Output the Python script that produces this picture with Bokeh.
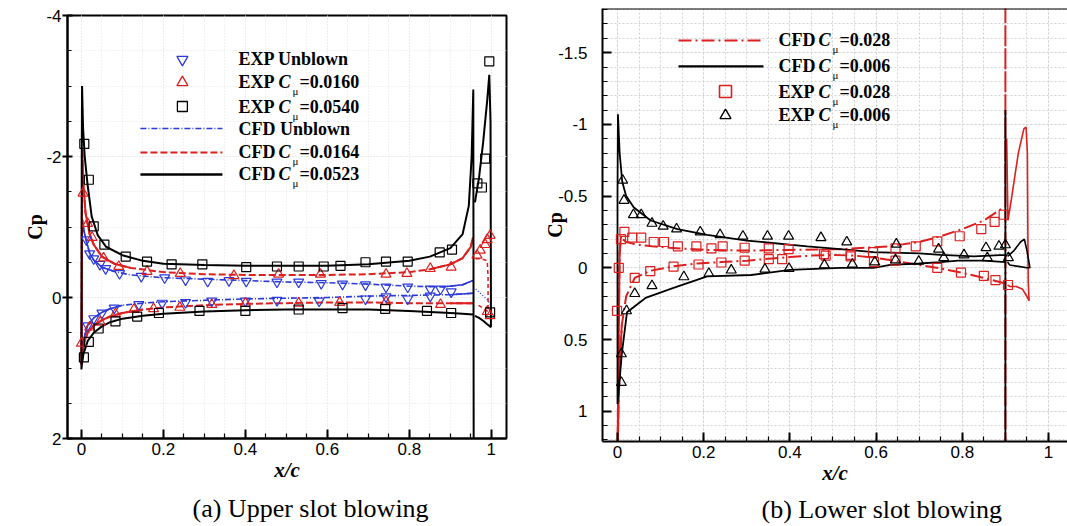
import numpy as np
from bokeh.plotting import figure
from bokeh.models import Range1d, FixedTicker, CustomJSTickFormatter, Label, Span
from bokeh.embed import file_html
from bokeh.resources import INLINE

BLUE = "#2b3ad8"
RED = "#dc1f1f"
BLACK = "#000000"
SERIF = "Liberation Serif"
SANS = "Liberation Sans"

# ---------------- (a) Upper slot blowing ----------------
x_ticks = [0, 0.2, 0.4, 0.6, 0.8, 1.0]
a_y_ticks = [-4, -2, 0, 2]
b_y_ticks = [-1.5, -1.0, -0.5, 0, 0.5, 1.0]

a_cfd_unblown_x = [0.955, 0.9, 0.8, 0.7, 0.6, 0.5, 0.4, 0.3, 0.2, 0.15, 0.1, 0.07, 0.05, 0.03, 0.015, 0.006, 0.002, 0.0,
                   0.0005, 0.0012, 0.0025, 0.006, 0.012, 0.02, 0.03, 0.05, 0.08, 0.12, 0.2, 0.3, 0.4, 0.5, 0.6, 0.7, 0.8, 0.88, 0.93, 0.955]
a_cfd_unblown_cp = [-0.06, -0.04, -0.03, -0.02, 0.0, 0.01, 0.02, 0.04, 0.06, 0.08, 0.11, 0.16, 0.21, 0.29, 0.4, 0.58, 0.8, 0.95,
                    0.4, -0.6, -1.1, -0.95, -0.8, -0.63, -0.53, -0.43, -0.37, -0.32, -0.28, -0.26, -0.24, -0.22, -0.21, -0.19, -0.16, -0.15, -0.18, -0.24]
a_cfd_unblown_flap_x = [0.962, 0.975, 0.99, 0.998]
a_cfd_unblown_flap_cp = [-0.12, -0.05, 0.03, 0.1]

a_cfd_0164_x = [0.955, 0.9, 0.8, 0.7, 0.6, 0.5, 0.4, 0.3, 0.2, 0.15, 0.1, 0.07, 0.05, 0.03, 0.015, 0.006, 0.002, 0.0,
                0.0005, 0.001, 0.002, 0.005, 0.01, 0.02, 0.03, 0.05, 0.08, 0.12, 0.2, 0.3, 0.4, 0.5, 0.6, 0.7, 0.8, 0.85, 0.9, 0.93, 0.95, 0.955]
a_cfd_0164_cp = [0.08, 0.08, 0.08, 0.07, 0.07, 0.08, 0.09, 0.11, 0.14, 0.17, 0.22, 0.27, 0.32, 0.4, 0.5, 0.65, 0.85, 0.95,
                 0.3, -1.0, -2.1, -1.6, -1.2, -0.9, -0.75, -0.58, -0.48, -0.42, -0.36, -0.33, -0.32, -0.32, -0.32, -0.33, -0.36, -0.40, -0.47, -0.56, -0.72, -0.85]
a_cfd_0164_flap_x = [0.962, 0.975, 0.99, 0.992, 0.992, 0.98, 0.965]
a_cfd_0164_flap_cp = [-0.55, -0.55, -0.52, -0.3, 0.2, 0.15, 0.1]

a_cfd_0523_x = [0.955, 0.93, 0.9, 0.8, 0.7, 0.6, 0.5, 0.4, 0.3, 0.2, 0.15, 0.1, 0.07, 0.05, 0.03, 0.015, 0.005, 0.001, 0.0,
                0.0003, 0.0008, 0.0015, 0.004, 0.008, 0.015, 0.025, 0.04, 0.06, 0.1, 0.15, 0.2, 0.3, 0.4, 0.5, 0.6, 0.7, 0.8, 0.85, 0.9,
                0.93, 0.945, 0.952, 0.956, 0.957]
a_cfd_0523_cp = [0.24, 0.23, 0.22, 0.19, 0.17, 0.17, 0.17, 0.18, 0.2, 0.23, 0.26, 0.3, 0.35, 0.41, 0.5, 0.62, 0.8, 0.95, 1.02,
                 0.0, -2.0, -3.0, -2.4, -2.0, -1.6, -1.15, -0.88, -0.72, -0.6, -0.52, -0.48, -0.46, -0.45, -0.45, -0.45, -0.47, -0.52, -0.58, -0.7,
                 -0.9, -1.3, -2.0, -2.95, 2.5]
a_cfd_0523_flap_x = [0.96, 0.97, 0.98, 0.99, 0.995, 0.998, 0.999, 0.999, 0.99, 0.98, 0.97, 0.96]
a_cfd_0523_flap_cp = [-1.35, -1.7, -2.2, -2.8, -3.16, -2.5, 0.0, 0.42, 0.38, 0.33, 0.29, 0.26]

a_exp_unblown_x = [0.012, 0.02, 0.03, 0.045, 0.059, 0.093, 0.146, 0.203, 0.254, 0.308, 0.36, 0.402, 0.477, 0.53, 0.585, 0.637,
                   0.693, 0.743, 0.796, 0.851, 0.876, 0.902,
                   0.015, 0.03, 0.05, 0.08, 0.14, 0.197, 0.254, 0.318, 0.40, 0.477, 0.58, 0.693, 0.743, 0.796, 0.851]
a_exp_unblown_cp = [-0.82, -0.62, -0.55, -0.47, -0.41, -0.34, -0.30, -0.28, -0.25, -0.23, -0.24, -0.23, -0.22, -0.22, -0.20, -0.19,
                    -0.18, -0.15, -0.15, -0.12, -0.12, -0.08,
                    0.40, 0.30, 0.22, 0.15, 0.10, 0.08, 0.07, 0.05, 0.05, 0.04, 0.05, 0.02, -0.01, 0.02, -0.02]

a_exp_0160_x = [0.004, 0.015, 0.026, 0.054, 0.091, 0.16, 0.241, 0.372, 0.481, 0.583, 0.743, 0.794, 0.851, 0.902, 0.965, 0.973,
                0.985, 0.99, 0.997,
                0.0, 0.02, 0.046, 0.083, 0.128, 0.176, 0.24, 0.318, 0.40, 0.53, 0.63, 0.743, 0.876, 0.99, 0.997]
a_exp_0160_cp = [-1.48, -1.05, -0.85, -0.56, -0.44, -0.37, -0.34, -0.31, -0.33, -0.33, -0.33, -0.34, -0.41, -0.43, -0.6, -0.67,
                 -0.75, -0.82, -0.88,
                 0.65, 0.42, 0.35, 0.23, 0.17, 0.16, 0.14, 0.10, 0.08, 0.08, 0.07, 0.06, 0.10, 0.2, 0.26]

a_exp_0540_x = [0.007, 0.018, 0.03, 0.056, 0.108, 0.16, 0.22, 0.295, 0.402, 0.477, 0.53, 0.591, 0.632, 0.693, 0.743, 0.796, 0.874,
                0.904, 0.966, 0.977, 0.985, 0.995,
                0.006, 0.018, 0.042, 0.083, 0.136, 0.189, 0.288, 0.40, 0.53, 0.637, 0.741, 0.843, 0.902, 0.997]
a_exp_0540_cp = [-2.18, -1.67, -1.01, -0.75, -0.58, -0.51, -0.47, -0.47, -0.43, -0.44, -0.44, -0.44, -0.45, -0.50, -0.51, -0.51, -0.64,
                 -0.68, -1.62, -1.56, -1.97, -3.35,
                 0.85, 0.63, 0.44, 0.34, 0.27, 0.22, 0.19, 0.19, 0.17, 0.15, 0.16, 0.19, 0.22, 0.21]

# ---------------- (b) Lower slot blowing ----------------
b_cfd_028_x = [0.9, 0.85, 0.8, 0.75, 0.7, 0.65, 0.6, 0.55, 0.5, 0.45, 0.4, 0.3, 0.24, 0.185, 0.13, 0.077, 0.04, 0.02, 0.01, 0.005, 0.002, 0.0,
               0.001, 0.003, 0.005, 0.008, 0.012, 0.02, 0.04, 0.08, 0.12, 0.2, 0.3, 0.4, 0.52, 0.63, 0.7, 0.75, 0.8, 0.85, 0.9, 0.9, 0.9, 0.9]
b_cfd_028_cp = [0.11, 0.07, 0.035, 0.005, -0.02, -0.045, -0.07, -0.085, -0.09, -0.085, -0.075, -0.05, -0.04, -0.03, -0.01, 0.02, 0.07, 0.2, 0.4, 0.7, 1.0, 1.4,
                1.0, 0.4, -0.1, -0.22, -0.2, -0.18, -0.165, -0.15, -0.14, -0.125, -0.12, -0.125, -0.13, -0.15, -0.18, -0.22, -0.27, -0.33, -0.43, -2.5, 2.5, 0.11]
b_cfd_028_flap_x = [0.903, 0.906, 0.915, 0.93, 0.943, 0.948, 0.951, 0.952, 0.953, 0.955, 0.95, 0.94, 0.925, 0.91, 0.905]
b_cfd_028_flap_cp = [-0.9, -0.33, -0.5, -0.8, -0.97, -0.98, -0.8, -0.3, 0.1, 0.23, 0.2, 0.15, 0.13, 0.13, 0.12]

b_cfd_006_x = [0.9, 0.85, 0.79, 0.75, 0.7, 0.633, 0.594, 0.517, 0.4, 0.31, 0.208, 0.13, 0.065, 0.022, 0.01, 0.003, 0.0,
               0.0, 0.0, 0.001, 0.005, 0.011, 0.02, 0.038, 0.077, 0.139, 0.208, 0.3, 0.44, 0.517, 0.594, 0.7, 0.75, 0.827, 0.9, 0.9, 0.9, 0.9]
b_cfd_006_cp = [-0.04, -0.05, -0.05, -0.04, -0.03, -0.02, 0.0, 0.0, 0.015, 0.05, 0.06, 0.14, 0.21, 0.31, 0.6, 0.85, 0.95,
                0.5, -0.5, -1.07, -0.8, -0.6, -0.5, -0.42, -0.33, -0.27, -0.23, -0.19, -0.15, -0.13, -0.11, -0.1, -0.09, -0.08, -0.09, -1.1, 2.5, -0.04]
b_cfd_006_flap_x = [0.905, 0.92, 0.935, 0.944, 0.95, 0.957, 0.95, 0.93, 0.91, 0.905]
b_cfd_006_flap_cp = [-0.08, -0.12, -0.18, -0.2, -0.12, 0.0, 0.0, -0.01, -0.02, -0.04]

b_exp_028_x = [0.008, 0.016, 0.034, 0.055, 0.084, 0.108, 0.14, 0.183, 0.218, 0.244, 0.295, 0.351, 0.397, 0.479, 0.541, 0.593, 0.645,
               0.692, 0.742, 0.794, 0.844, 0.875, 0.896,
               -0.001, 0.003, 0.04, 0.076, 0.13, 0.188, 0.241, 0.295, 0.351, 0.382, 0.483, 0.541, 0.595, 0.645, 0.742, 0.797, 0.85, 0.877, 0.906]
b_exp_028_cp = [-0.20, -0.25, -0.21, -0.21, -0.18, -0.18, -0.15, -0.15, -0.135, -0.15, -0.14, -0.135, -0.13, -0.095, -0.09, -0.11, -0.135,
                -0.15, -0.185, -0.22, -0.27, -0.32, -0.37,
                0.30, 0.0, 0.07, 0.023, -0.008, -0.023, -0.037, -0.05, -0.06, -0.06, -0.085, -0.08, -0.04, -0.05, 0.0, 0.033, 0.056, 0.086, 0.12]

b_exp_006_x = [0.012, 0.015, 0.037, 0.055, 0.08, 0.106, 0.137, 0.192, 0.238, 0.291, 0.348, 0.397, 0.472, 0.532, 0.647, 0.745, 0.855,
               0.885, 0.9,
               0.009, 0.009, 0.021, 0.04, 0.08, 0.154, 0.212, 0.264, 0.342, 0.398, 0.48, 0.545, 0.597, 0.645, 0.699, 0.757, 0.804, 0.858, 0.907]
b_exp_006_cp = [-0.61, -0.47, -0.37, -0.37, -0.31, -0.29, -0.27, -0.25, -0.23, -0.22, -0.22, -0.22, -0.21, -0.18, -0.165, -0.13, -0.14,
                -0.15, -0.16,
                0.80, 0.60, 0.30, 0.18, 0.125, 0.063, 0.04, 0.016, 0.01, 0.005, -0.02, -0.025, -0.04, -0.055, -0.045, -0.07, -0.09, -0.07, -0.07]


def ends_only(xs, ys, lo, hi):
    xs = np.asarray(xs, float)
    ys = np.asarray(ys, float)
    keep = (xs < lo) | (xs > hi)
    return xs, np.where(keep, ys, np.nan)


def setup(p, y_major, y_minor, grid_color, grid_dash, y_in, y_out, y_standoff, ylab_standoff):
    x_minor = np.round(np.arange(-0.05, 1.1, 0.05), 3).tolist()
    fmt = CustomJSTickFormatter(code="return tick.toString();")
    xt = FixedTicker(ticks=x_ticks, minor_ticks=x_minor)
    yt = FixedTicker(ticks=y_major, minor_ticks=y_minor)
    p.xaxis.ticker = xt
    p.yaxis.ticker = yt
    p.xgrid.ticker = xt
    p.ygrid.ticker = yt
    for ax in (p.xaxis, p.yaxis):
        ax.formatter = fmt
        ax.axis_line_width = 2
        ax.axis_line_color = BLACK
        ax.major_tick_line_width = 2
        ax.minor_tick_line_width = 1.2
        ax.major_label_text_font = SANS
        ax.major_label_text_font_size = "17px"
        ax.major_label_text_color = BLACK
        ax.axis_label_text_font = SERIF
        ax.axis_label_text_color = BLACK
    p.xaxis.major_tick_in = 9
    p.xaxis.major_tick_out = 0
    p.xaxis.minor_tick_in = 5
    p.xaxis.minor_tick_out = 0
    p.xaxis.major_label_standoff = 4
    p.xaxis.axis_label = "x/c"
    p.xaxis.axis_label_text_font_style = "bold italic"
    p.xaxis.axis_label_text_font_size = "21px"
    p.xaxis.axis_label_standoff = 0
    p.yaxis.major_tick_in = y_in
    p.yaxis.major_tick_out = y_out
    p.yaxis.minor_tick_in = 4
    p.yaxis.minor_tick_out = 0
    p.yaxis.major_label_standoff = y_standoff
    p.yaxis.axis_label = "Cp"
    p.yaxis.axis_label_text_font_style = "bold"
    p.yaxis.axis_label_text_font_size = "20px"
    p.yaxis.axis_label_standoff = ylab_standoff
    for g in (p.xgrid, p.ygrid):
        g.grid_line_color = grid_color
        g.grid_line_dash = grid_dash
        g.grid_line_width = 1
        g.minor_grid_line_color = grid_color
        g.minor_grid_line_dash = grid_dash
        g.minor_grid_line_width = 1
    p.title.align = "left"
    p.title.text_font = SERIF
    p.title.text_font_style = "normal"
    p.title.text_font_size = "26px"
    p.title.text_color = BLACK


def legend_text(p, x, y, prefix, rest, italic_c=True, size="18px"):
    p.add_layout(Label(x=x, y=y, text=prefix, text_font=SERIF, text_font_style="bold",
                       text_font_size=size, text_baseline="middle", text_color=BLACK))
    if italic_c:
        p.add_layout(Label(x=x, y=y, x_offset=40, text="C", text_font=SERIF, text_font_style="bold italic",
                           text_font_size=size, text_baseline="middle", text_color=BLACK))
        p.add_layout(Label(x=x, y=y, x_offset=54, y_offset=-9, text="μ", text_font=SERIF,
                           text_font_size="11px", text_baseline="middle", text_color=BLACK))
        p.add_layout(Label(x=x, y=y, x_offset=61, text=rest, text_font=SERIF, text_font_style="bold",
                           text_font_size=size, text_baseline="middle", text_color=BLACK))


# ---------------- figure (a) ----------------
p1 = figure(frame_width=439, frame_height=423, x_range=Range1d(-0.034, 1.037), y_range=Range1d(2, -4),
            output_backend="svg", toolbar_location=None, min_border_left=67, min_border_right=34,
            min_border_top=15, min_border_bottom=88, title="(a) Upper slot blowing", title_location="below")
setup(p1, a_y_ticks, np.arange(-4, 2.01, 0.5).tolist(), "#e4e4e4", "1 2", 5, 5, 1, -3)
p1.title.offset = 125
p1.title.standoff = 14
p1.outline_line_color = BLACK
p1.outline_line_width = 2

# CFD lines
p1.line(a_cfd_unblown_x, a_cfd_unblown_cp, line_color=BLUE, line_width=1.6, line_dash="6 2 1 2")
xs, ys = ends_only(a_cfd_unblown_x, a_cfd_unblown_cp, 0.12, 0.86)
p1.line(xs, ys, line_color=BLUE, line_width=1.6)
p1.line(a_cfd_unblown_flap_x, a_cfd_unblown_flap_cp, line_color=BLUE, line_width=1.4, line_dash="1 2")

p1.line(a_cfd_0164_x, a_cfd_0164_cp, line_color=RED, line_width=2, line_dash="7 3")
xs, ys = ends_only(a_cfd_0164_x, a_cfd_0164_cp, 0.17, 0.84)
p1.line(xs, ys, line_color=RED, line_width=2)
p1.line(a_cfd_0164_flap_x, a_cfd_0164_flap_cp, line_color=RED, line_width=1.5, line_dash="4 3")

p1.line(a_cfd_0523_x, a_cfd_0523_cp, line_color=BLACK, line_width=2)
p1.line(a_cfd_0523_flap_x, a_cfd_0523_flap_cp, line_color=BLACK, line_width=2)

# EXP markers
p1.scatter(a_exp_unblown_x, a_exp_unblown_cp, marker="inverted_triangle", size=10, fill_color=None,
           line_color=BLUE, line_width=1.2)
p1.scatter(a_exp_0160_x, a_exp_0160_cp, marker="triangle", size=10, fill_color=None,
           line_color=RED, line_width=1.2)
p1.scatter(a_exp_0540_x, a_exp_0540_cp, marker="square", size=9, fill_color=None,
           line_color=BLACK, line_width=1.2)

# legend (a)
a_leg_sym_x = 0.2463
a_leg_line_x = [0.1439, 0.3439]
a_leg_txt_x = 0.383
a_leg_rows = [-3.376, -3.05, -2.709, -2.397, -2.057, -1.745]
p1.scatter([a_leg_sym_x], [a_leg_rows[0]], marker="inverted_triangle", size=11, fill_color=None, line_color=BLUE, line_width=1.3)
p1.scatter([a_leg_sym_x], [a_leg_rows[1]], marker="triangle", size=11, fill_color=None, line_color=RED, line_width=1.3)
p1.scatter([a_leg_sym_x], [a_leg_rows[2]], marker="square", size=10, fill_color=None, line_color=BLACK, line_width=1.3)
p1.line(a_leg_line_x, [a_leg_rows[3]] * 2, line_color=BLUE, line_width=1.6, line_dash="6 2 1 2")
p1.line(a_leg_line_x, [a_leg_rows[4]] * 2, line_color=RED, line_width=2, line_dash="7 3")
p1.line(a_leg_line_x, [a_leg_rows[5]] * 2, line_color=BLACK, line_width=2.5)
legend_text(p1, a_leg_txt_x, a_leg_rows[0], "EXP Unblown", "", italic_c=False)
legend_text(p1, a_leg_txt_x, a_leg_rows[1], "EXP ", "=0.0160")
legend_text(p1, a_leg_txt_x, a_leg_rows[2], "EXP ", "=0.0540")
legend_text(p1, a_leg_txt_x, a_leg_rows[3], "CFD Unblown", "", italic_c=False)
legend_text(p1, a_leg_txt_x, a_leg_rows[4], "CFD ", "=0.0164")
legend_text(p1, a_leg_txt_x, a_leg_rows[5], "CFD ", "=0.0523")

# ---------------- figure (b) ----------------
b_y_range = Range1d(1.211, -1.808)
p2 = figure(frame_width=465, frame_height=433, x_range=Range1d(-0.0348, 1.0441), y_range=b_y_range,
            output_backend="svg", toolbar_location=None, min_border_left=62, min_border_right=0,
            min_border_top=8, min_border_bottom=85, title="(b) Lower slot blowing", title_location="below")
setup(p2, b_y_ticks, np.round(np.arange(-1.8, 1.21, 0.1), 2).tolist(), "#d2d2d2", "2 2", 9, 0, 15, -11)
p2.yaxis.minor_tick_in = 5
p2.title.offset = 159
p2.title.standoff = 10
p2.outline_line_color = None
p2.add_layout(Span(location=b_y_range.end, dimension="width", line_color=BLACK, line_width=2))

p2.line(b_cfd_028_x, b_cfd_028_cp, line_color=RED, line_width=2, line_dash="13 4 2 4")
xs, ys = ends_only(b_cfd_028_x, b_cfd_028_cp, 0.012, 2.0)
p2.line(xs, ys, line_color=RED, line_width=2)
p2.line(b_cfd_028_flap_x, b_cfd_028_flap_cp, line_color=RED, line_width=1.6)

p2.line(b_cfd_006_x, b_cfd_006_cp, line_color=BLACK, line_width=1.8)
p2.line(b_cfd_006_flap_x, b_cfd_006_flap_cp, line_color=BLACK, line_width=1.6)

p2.scatter(b_exp_028_x, b_exp_028_cp, marker="square", size=9, fill_color=None, line_color=RED, line_width=1.2)
p2.scatter(b_exp_006_x, b_exp_006_cp, marker="triangle", size=10, fill_color=None, line_color=BLACK, line_width=1.2)

# legend (b)
b_leg_sym_x = 0.2506
b_leg_line_x = [0.1415, 0.3387]
b_leg_txt_x = 0.3735
b_leg_rows = [-1.585, -1.404, -1.229, -1.062]
p2.line(b_leg_line_x, [b_leg_rows[0]] * 2, line_color=RED, line_width=2, line_dash="13 4 2 4")
p2.line(b_leg_line_x, [b_leg_rows[1]] * 2, line_color=BLACK, line_width=2.2)
p2.scatter([b_leg_sym_x], [b_leg_rows[2]], marker="square", size=12, fill_color=None, line_color=RED, line_width=1.6)
p2.scatter([b_leg_sym_x], [b_leg_rows[3]], marker="triangle", size=11, fill_color=None, line_color=BLACK, line_width=1.4)
legend_text(p2, b_leg_txt_x, b_leg_rows[0], "CFD ", "=0.028")
legend_text(p2, b_leg_txt_x, b_leg_rows[1], "CFD ", "=0.006")
legend_text(p2, b_leg_txt_x, b_leg_rows[2], "EXP ", "=0.028")
legend_text(p2, b_leg_txt_x, b_leg_rows[3], "EXP ", "=0.006")

# Two independent roots placed side by side (no frame alignment between them)
SIDE_BY_SIDE = """
{% block contents %}
<div style="display:flex;flex-direction:row;align-items:flex-start;margin:0;padding:0;">
{{ super() }}
</div>
{% endblock %}
"""

open("out.html", "w").write(file_html([p1, p2], INLINE, template=SIDE_BY_SIDE))
